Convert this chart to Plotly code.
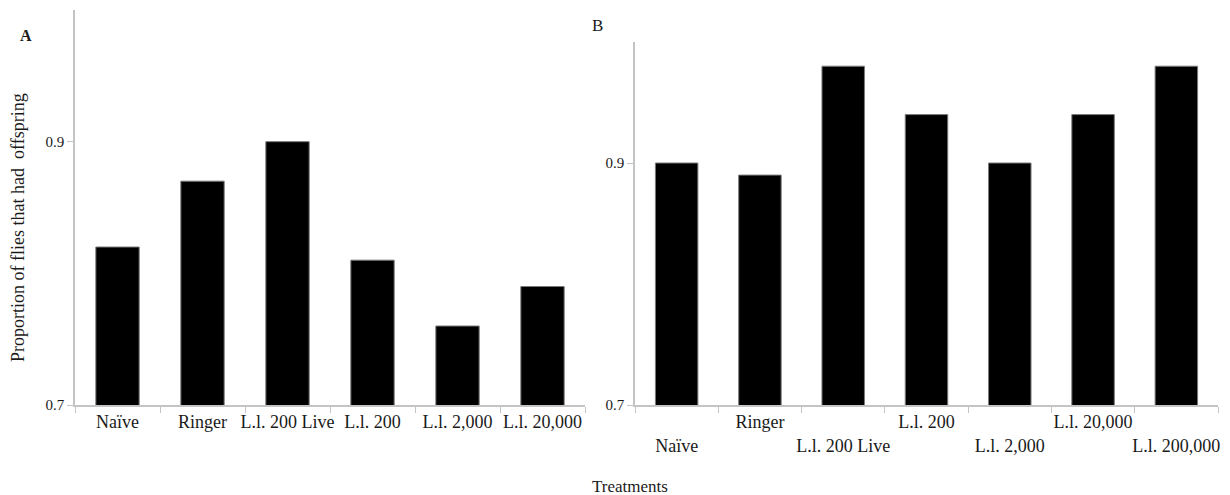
import plotly.graph_objects as go

# Data
categories_a = ["Naïve", "Ringer", "L.l. 200 Live", "L.l. 200", "L.l. 2,000", "L.l. 20,000"]
values_a = [0.82, 0.87, 0.90, 0.81, 0.76, 0.79]

categories_b = ["Naïve", "Ringer", "L.l. 200 Live", "L.l. 200", "L.l. 2,000", "L.l. 20,000", "L.l. 200,000"]
values_b = [0.90, 0.89, 0.98, 0.94, 0.90, 0.94, 0.98]

y_ticks = [0.7, 0.9]
y_tick_labels = ["0.7", "0.9"]

FONT = "Liberation Serif, Times New Roman, serif"
AXIS_COLOR = "#c4c4c4"
TEXT_COLOR = "#1a1a1a"

# page body has an 8px margin; size the figure to fit the window
OFF = 8
W, H = 1230 - OFF, 495 - OFF

def px_x(p):
    return (p - OFF) / W

def px_y(p):
    return 1 - (p - OFF) / H

# staggered labels for panel B: even-index on lower row
ticktext_b = [("<br>" + c) if i % 2 == 0 else c for i, c in enumerate(categories_b)]

fig = go.Figure()

fig.add_trace(go.Bar(
    x=categories_a, y=values_a, xaxis="x", yaxis="y",
    marker=dict(color="black", line=dict(color="#7a7a7a", width=1)),
    showlegend=False,
))
fig.add_trace(go.Bar(
    x=categories_b, y=values_b, xaxis="x2", yaxis="y2",
    marker=dict(color="black", line=dict(color="#7a7a7a", width=1)),
    showlegend=False,
))

xaxis_common = dict(
    type="category", showline=True, linecolor=AXIS_COLOR, linewidth=1.5,
    ticks="outside", tickson="boundaries", ticklen=6, tickcolor=AXIS_COLOR,
    tickwidth=1, showgrid=False, zeroline=False, automargin=False,
    tickfont=dict(family=FONT, size=18, color=TEXT_COLOR), tickangle=0,
    fixedrange=True,
)
yaxis_common = dict(
    range=[0.7, 1.0], tickvals=y_ticks, ticktext=y_tick_labels,
    showline=True, linecolor=AXIS_COLOR, linewidth=1.5,
    ticks="outside", ticklen=6, tickcolor=AXIS_COLOR, tickwidth=1,
    showgrid=False, zeroline=False, automargin=False,
    tickfont=dict(family=FONT, size=15, color=TEXT_COLOR),
)

def ann(text, x, y, size, angle=0):
    return dict(text=text, x=px_x(x), y=px_y(y), xref="paper", yref="paper",
                xanchor="center", yanchor="middle", textangle=angle,
                showarrow=False, font=dict(family=FONT, size=size, color=TEXT_COLOR))

fig.update_layout(
    width=W, height=H,
    margin=dict(l=0, r=0, t=0, b=0),
    plot_bgcolor="white", paper_bgcolor="white",
    bargap=0.49,
    xaxis=dict(domain=[px_x(75), px_x(585)], anchor="y", **xaxis_common),
    yaxis=dict(domain=[px_y(405), px_y(10)], anchor="x", **yaxis_common),
    xaxis2=dict(domain=[px_x(635), px_x(1218)], anchor="y2",
                tickvals=categories_b, ticktext=ticktext_b, **xaxis_common),
    yaxis2=dict(domain=[px_y(405), px_y(42)], anchor="x2", **yaxis_common),
    annotations=[
        ann("<b>A</b>", 26, 36, 16),
        ann("B", 597, 25, 17),
        ann("Proportion of flies that had  offspring", 18, 228, 18, -90),
        ann("Treatments", 630, 486, 17),
    ],
)

fig.write_html("out.html")
